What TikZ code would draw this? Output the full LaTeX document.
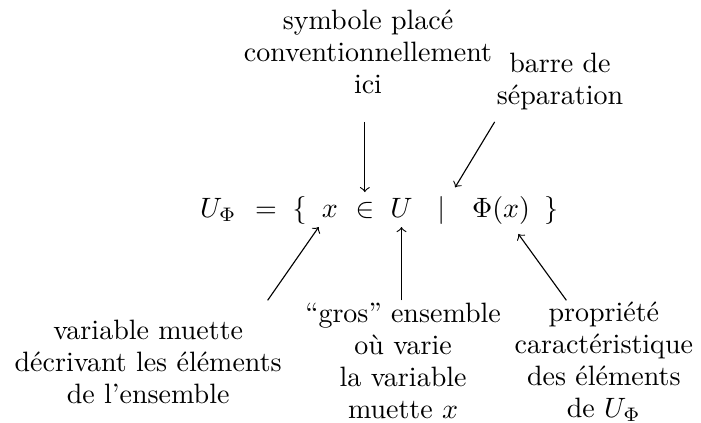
\documentclass[tikz,border=0pt]{standalone}
\usepackage{amsmath,amssymb}
\usepackage{tikz}
\usetikzlibrary{positioning}

\begin{document}
\begin{tikzpicture}[lbl/.style={align=center, anchor=north, font=\fontsize{10}{11.4}\selectfont}]
\useasboundingbox (0,0) rectangle (8.80,5.31);

 \foreach \n/\x/\sym in {uphi/2.74/U_{\Phi}, eq/3.34/=, lb/3.76/\{, vx/4.14/x, elem/4.58/\in, U/5.04/U, bar/5.54/|, phi/6.29/\Phi(x), rb/6.92/\}}
 \node[anchor=base] (\n) at (\x,2.584) {$\sym$};

 \node[lbl] (ici) at (4.62,5.31) {symbole placé\\conventionnellement\\ici};
 \node[lbl] (barre) at (7.03,4.77) {barre de\\séparation};
 \node[lbl] (muette) at (1.86,1.418) {variable muette\\décrivant les éléments\\de l’ensemble};
 \node[lbl] (gros) at (5.06,1.631) {“gros” ensemble\\où varie\\la variable\\muette $x$};
 \node[lbl] (prop) at (7.58,1.644) {propriété\\caractéristique\\des éléments\\de $U_{\Phi}$};

 \coordinate (t1) at (4.58,3.78);
 \coordinate (t2) at (6.21,3.78);
 \coordinate (t3) at (3.36,1.54);
 \coordinate (t4) at (5.04,1.54);
 \coordinate (t5) at (7.11,1.54);

\draw[->, thin, black] (t1)--(elem);
\draw[->, thin, black] (t2)--(bar);
\draw[->, thin, black] (t3)--(vx);
\draw[->, thin, black] (t4)--(U);
\draw[->, thin, black] (t5)--(phi);

\end{tikzpicture}
\end{document}
